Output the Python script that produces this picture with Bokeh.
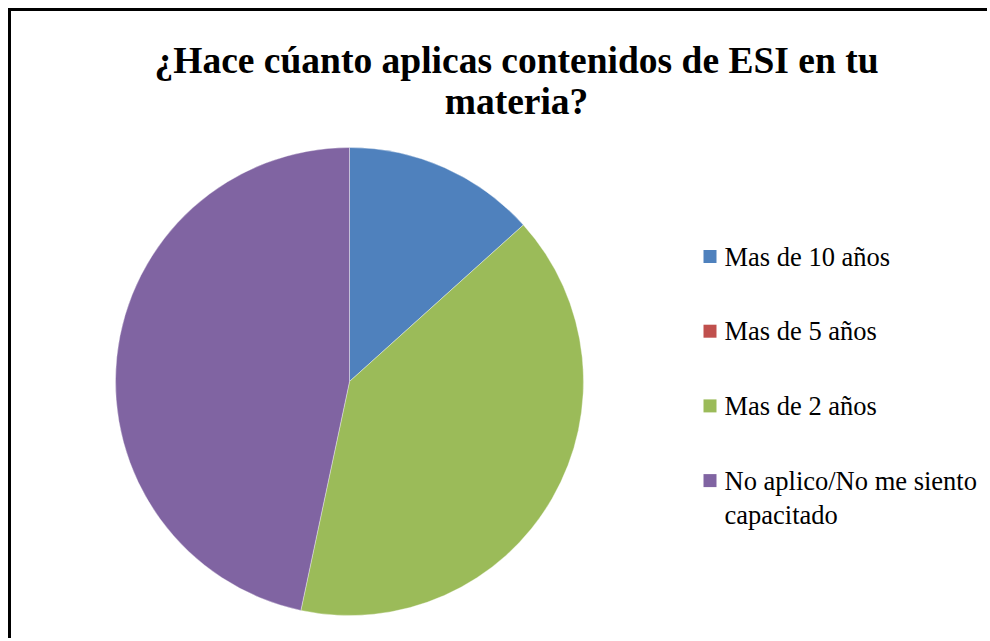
import numpy as np
from bokeh.plotting import figure
from bokeh.models import Range1d, Label, ColumnDataSource
from bokeh.core.properties import value
from bokeh.embed import file_html
from bokeh.resources import INLINE

title_lines = ["¿Hace cúanto aplicas contenidos de ESI en tu", "materia?"]
categories = ["Mas de 10 años", "Mas de 5 años", "Mas de 2 años", "No aplico/No me siento\ncapacitado"]
counts = [2, 0, 6, 7]
colors = ["#4F81BD", "#C0504D", "#9BBB59", "#8064A2"]

W, H = 979, 630
p = figure(width=W, height=H, output_backend="svg", toolbar_location=None,
           x_range=Range1d(0, W), y_range=Range1d(0, H), min_border=0,
           tools="")
p.axis.visible = False
p.grid.visible = False
p.outline_line_color = None
p.background_fill_color = "white"
p.styles = {"margin-left": "8px", "margin-top": "8px",
            "border-left": "3px solid black", "border-top": "3px solid black"}

vals = np.array(counts, dtype=float)
frac = vals / vals.sum()
cum = np.concatenate([[0], np.cumsum(frac)])
start = np.pi / 2 - cum[:-1] * 2 * np.pi
end = np.pi / 2 - cum[1:] * 2 * np.pi

cx, cy, r = 338, 260, 234
nz = ColumnDataSource(dict(start=[s for s, v in zip(start, counts) if v > 0],
                           end=[e for e, v in zip(end, counts) if v > 0],
                           color=[c for c, v in zip(colors, counts) if v > 0]))
p.wedge(x=cx, y=cy, radius=r, start_angle="start", end_angle="end", direction="clock",
        fill_color="color", line_color="white", line_width=0.6, line_alpha=0.6, source=nz)

# legend
leg_y0, leg_dy = 385, 74.7
ly = [leg_y0 - i * leg_dy for i in range(len(categories))]
leg = ColumnDataSource(dict(x=[698.5] * len(categories), tx=[713] * len(categories),
                            y=ly, ty=[v + 15 for v in ly], cat=categories, color=colors))
p.scatter(x="x", y="y", marker="square", size=13, fill_color="color", line_color=None, source=leg)
p.text(x="tx", y="ty", text="cat", text_font=value("Liberation Serif"), text_font_size="26.5px",
       text_baseline="top", text_align="left", text_color="black", text_line_height=1.15,
       source=leg)

# title
p.add_layout(Label(x=505, y=581, text=title_lines[0], text_font="Liberation Serif",
                   text_font_size="37.5px", text_font_style="bold", text_align="center",
                   text_baseline="alphabetic", text_color="black"))
p.add_layout(Label(x=505, y=540, text=title_lines[1], text_font="Liberation Serif",
                   text_font_size="37.5px", text_font_style="bold", text_align="center",
                   text_baseline="alphabetic", text_color="black"))

open("out.html", "w").write(file_html(p, INLINE))
